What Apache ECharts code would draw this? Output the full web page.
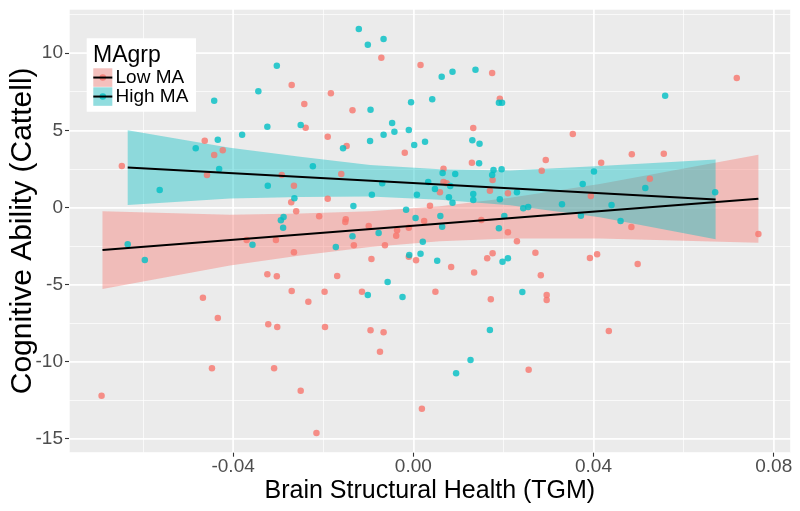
<!DOCTYPE html>
<html><head><meta charset="utf-8">
<script src="https://cdn.jsdelivr.net/npm/echarts@6/dist/echarts.min.js"></script>
<style>html,body{margin:0;padding:0;background:#fff}#c{width:800px;height:511px}</style>
</head><body><div id="c"></div>
<script>
// ---- data ----
const xTicks = [-0.04, 0, 0.04, 0.08];
const yTicks = [-15, -10, -5, 0, 5, 10];
const xTitle = 'Brain Structural Health (TGM)';
const yTitle = 'Cognitive Ability (Cattell)';
const legendTitle = 'MAgrp';
const groupNames = ['Low MA', 'High MA'];

const lowX = [-0.0270,-0.0242,-0.0239,-0.0463,-0.0442,-0.0423,-0.0071,0.0016,0.0175,-0.0183,-0.0135,0.0192,-0.0190,0.0133,-0.0148,-0.0019,0.0718,0.0354,0.0485,0.0556,0.0294,-0.0647,-0.0458,-0.0292,-0.0265,-0.0271,-0.0260,-0.0370,-0.0305,-0.0265,-0.0324,-0.0303,-0.0467,-0.0270,-0.0233,0.0130,0.0067,0.0176,-0.0160,0.0067,0.0074,0.0059,0.0170,0.0210,-0.0190,0.0037,-0.0209,-0.0150,-0.0151,-0.0099,0.0024,0.0151,0.0210,-0.0036,-0.0038,-0.0010,-0.0132,-0.0063,-0.0093,-0.0010,0.0006,0.0084,0.0164,0.0176,-0.0197,-0.0114,0.0049,-0.0169,0.0135,0.0172,0.0283,0.0296,0.0296,0.0271,0.0230,0.0285,0.0417,0.0525,0.0484,0.0766,0.0392,0.0408,0.0498,-0.0692,-0.0434,-0.0322,-0.0302,-0.0447,-0.0309,-0.0250,-0.0196,-0.0095,-0.0066,-0.0074,-0.0215,0.0019,0.0256,0.0434,0.0394];
const lowY = [7.94,6.71,5.17,4.33,3.40,3.70,9.71,9.23,8.72,7.40,6.30,7.05,4.58,5.15,3.98,3.55,8.39,4.76,3.44,3.48,3.07,2.68,2.10,2.10,1.41,0.33,-0.25,-2.11,-2.11,-2.91,-4.34,-4.47,-5.86,-5.42,-6.12,2.90,2.51,1.78,2.17,1.65,1.56,0.98,1.08,0.91,0.56,0.11,-0.58,-0.77,-0.95,-1.21,-0.88,-0.82,-1.61,-1.49,-1.84,-1.32,-2.46,-2.46,-3.35,-3.20,-3.43,-3.87,-3.30,-2.98,-5.47,-5.47,-5.47,-4.45,-4.23,-5.96,-4.40,-5.68,-6.01,-2.94,-2.20,2.38,2.90,1.86,-1.27,-1.73,-3.28,-3.04,-3.67,-12.21,-7.17,-7.58,-7.76,-10.43,-10.43,-11.89,-7.76,-7.97,-8.10,-9.36,-14.63,-13.05,-10.53,-8.02,0.74];

const highX = [-0.0303,-0.0344,-0.0442,-0.0324,-0.0250,-0.0380,-0.0434,-0.0483,-0.0121,-0.0066,-0.0101,0.0063,0.0087,0.0138,-0.0095,-0.0005,0.0042,0.0190,0.0197,-0.0047,-0.0066,-0.0042,-0.0010,-0.0156,-0.0096,0.0002,0.0026,0.0131,0.0147,0.0559,-0.0431,-0.0563,-0.0323,-0.0264,-0.0294,-0.0288,-0.0289,-0.0634,-0.0596,-0.0357,0.0146,-0.0223,0.0065,0.0093,0.0178,0.0196,0.0175,-0.0069,0.0033,0.0048,0.0082,-0.0092,0.0008,0.0079,0.0087,0.0133,0.0133,0.0192,-0.0133,-0.0016,0.0005,0.0060,0.0064,0.0190,0.0202,-0.0077,-0.0135,0.0021,-0.0172,-0.0009,0.0016,0.0053,0.0198,0.0210,-0.0101,-0.0024,-0.0057,0.0242,0.0244,0.0255,0.0230,0.0401,0.0376,0.0515,0.0670,0.0440,0.0372,0.0460,0.0095,0.0127,0.0170,0.0330];
const highY = [9.19,7.53,6.92,5.23,5.34,4.71,4.39,3.83,11.57,10.92,10.55,8.48,8.80,8.93,6.34,6.82,7.01,6.79,6.79,5.47,4.71,4.91,5.02,3.83,4.31,4.05,4.26,4.35,4.13,7.24,2.49,1.13,1.41,0.59,-0.84,-0.62,-1.32,-2.39,-3.41,-2.42,2.86,2.67,2.23,2.17,2.43,2.47,2.10,1.56,1.65,1.19,1.39,0.82,0.82,0.65,0.30,0.87,0.48,0.53,0.09,-0.15,-0.69,-0.56,-1.25,-1.36,-0.56,-1.66,-1.87,-2.22,-2.57,-3.09,-3.00,-3.46,-3.52,-3.30,-5.68,-5.81,-4.84,-5.49,-0.06,0.03,0.98,2.32,1.52,1.26,0.98,0.16,-0.54,-0.88,-10.76,-9.90,-7.95,0.20];

const lowLineX = [-0.0690, 0.0766];
const lowLineY = [-2.77, 0.56];
const highLineX = [-0.0634, 0.0671];
const highLineY = [2.58, 0.52];

const lowBandX  = [-0.0690, -0.0407, -0.0251, -0.0096, 0.0059, 0.0215, 0.0414, 0.0766];
const lowBandLo = [-5.29, -3.77, -3.12, -2.57, -2.19, -2.02, -2.02, -2.29];
const lowBandHi = [-0.25, -0.47, -0.40, -0.25, 0.07, 0.62, 1.52, 3.41];
const highBandX  = [-0.0634, -0.0407, -0.0251, -0.0096, 0.0059, 0.0215, 0.0414, 0.0671];
const highBandLo = [0.16, 0.57, 0.68, 0.71, 0.50, 0.14, -0.64, -2.07];
const highBandHi = [5.00, 3.87, 3.28, 2.75, 2.48, 2.40, 2.68, 3.11];

// ---- styling ----
const FONT = "'Liberation Sans', Arial, sans-serif";
const RED = '#F8766D', BLUE = '#00BFC4';
const XMIN = -0.07643, XMAX = 0.08377, YMIN = -15.908, YMAX = 12.866;

function pairs(xs, ys) { return xs.map((x, i) => [x, ys[i]]); }
function bandSeries(name, xs, lo, hi, color) {
  return {
    type: 'custom', name: name, silent: true,
    data: xs.map((x, i) => [x, lo[i], hi[i]]),
    encode: { x: 0, y: [1, 2] },
    renderItem: function (params, api) {
      if (params.dataIndex !== 0) return null;
      const pts = [];
      for (let i = 0; i < xs.length; i++) pts.push(api.coord([xs[i], hi[i]]));
      for (let i = xs.length - 1; i >= 0; i--) pts.push(api.coord([xs[i], lo[i]]));
      return { type: 'polygon', shape: { points: pts }, style: { fill: color, opacity: 0.4 } };
    }
  };
}
function lineSeries(name, xs, ys) {
  return { type: 'line', name: name, data: pairs(xs, ys), showSymbol: false, silent: true,
    lineStyle: { color: '#000', width: 2 }, itemStyle: { color: '#000' } };
}
function scatterSeries(name, xs, ys, color) {
  return { type: 'scatter', name: name, data: pairs(xs, ys), symbolSize: 6.5, silent: true,
    itemStyle: { color: color, opacity: 0.8 } };
}

const tickLabel = { color: '#4D4D4D', fontSize: 19, fontFamily: FONT };
const option = {
  animation: false,
  backgroundColor: '#ffffff',
  grid: { left: 69, right: 9.3, top: 9, bottom: 58.3, show: true, backgroundColor: '#EBEBEB', borderWidth: 0,
    containLabel: false, outerBoundsMode: 'none' },
  xAxis: [
    { type: 'value', position: 'bottom', min: XMIN, max: XMAX, minInterval: 0.04, maxInterval: 0.04,
      name: xTitle, nameLocation: 'middle', nameGap: 26, nameMoveOverlap: false,
      nameTextStyle: { color: '#000', fontSize: 25, fontFamily: FONT },
      axisLine: { show: false, onZero: false },
      axisTick: { show: true, length: 4, customValues: xTicks, lineStyle: { color: '#333333', width: 1.1 } },
      axisLabel: Object.assign({ margin: 5, customValues: xTicks, formatter: v => v.toFixed(2) }, tickLabel),
      splitLine: { show: true, lineStyle: { color: '#ffffff', width: 1.5 } } },
    { type: 'value', position: 'top', min: XMIN, max: XMAX, minInterval: 0.02, maxInterval: 0.02,
      axisLine: { show: false, onZero: false }, axisTick: { show: false }, axisLabel: { show: false },
      splitLine: { show: true, lineStyle: { color: '#ffffff', width: 0.7 } } }
  ],
  yAxis: [
    { type: 'value', position: 'left', min: YMIN, max: YMAX, minInterval: 5, maxInterval: 5,
      name: yTitle, nameLocation: 'middle', nameGap: 31, nameMoveOverlap: false,
      nameTextStyle: { color: '#000', fontSize: 30, fontFamily: FONT },
      axisLine: { show: false, onZero: false },
      axisTick: { show: true, length: 4, customValues: yTicks, lineStyle: { color: '#333333', width: 1.1 } },
      axisLabel: Object.assign({ margin: 6, customValues: yTicks, formatter: v => String(v) }, tickLabel),
      splitLine: { show: true, lineStyle: { color: '#ffffff', width: 1.5 } } },
    { type: 'value', position: 'right', min: YMIN, max: YMAX, minInterval: 2.5, maxInterval: 2.5,
      axisLine: { show: false, onZero: false }, axisTick: { show: false }, axisLabel: { show: false },
      splitLine: { show: true, lineStyle: { color: '#ffffff', width: 0.7 } } }
  ],
  series: [
    scatterSeries(groupNames[0], lowX, lowY, RED),
    scatterSeries(groupNames[1], highX, highY, BLUE),
    bandSeries(groupNames[0] + ' band', lowBandX, lowBandLo, lowBandHi, RED),
    lineSeries(groupNames[0] + ' fit', lowLineX, lowLineY),
    bandSeries(groupNames[1] + ' band', highBandX, highBandLo, highBandHi, BLUE),
    lineSeries(groupNames[1] + ' fit', highLineX, highLineY)
  ],
  graphic: (function () {
    const els = [
      { type: 'rect', z: 100, shape: { x: 86.7, y: 38.3, width: 109.3, height: 73.4 }, style: { fill: '#ffffff' } },
      { type: 'text', z: 101, x: 93, y: 56, style: { text: legendTitle, fontSize: 23, fontFamily: FONT, fill: '#000', align: 'left', verticalAlign: 'middle' } }
    ];
    const cols = [RED, BLUE];
    for (let i = 0; i < 2; i++) {
      const ky = 68.3 + i * 19, cy = ky + 9.25;
      els.push({ type: 'rect', z: 101, shape: { x: 93.3, y: ky, width: 19, height: 18.5 }, style: { fill: '#F2F2F2' } });
      els.push({ type: 'circle', z: 102, shape: { cx: 102.8, cy: cy, r: 3.3 }, style: { fill: cols[i], opacity: 0.8 } });
      els.push({ type: 'rect', z: 103, shape: { x: 93.3, y: ky, width: 19, height: 18.5 }, style: { fill: cols[i], opacity: 0.4 } });
      els.push({ type: 'line', z: 104, shape: { x1: 93.3, y1: cy, x2: 112.3, y2: cy }, style: { stroke: '#000', lineWidth: 2 } });
      els.push({ type: 'text', z: 104, x: 115.5, y: cy, style: { text: groupNames[i], fontSize: 19, fontFamily: FONT, fill: '#000', align: 'left', verticalAlign: 'middle' } });
    }
    return els;
  })()
};
const chart = echarts.init(document.getElementById('c'), null, { renderer: 'canvas' });
chart.setOption(option);
</script></body></html>
